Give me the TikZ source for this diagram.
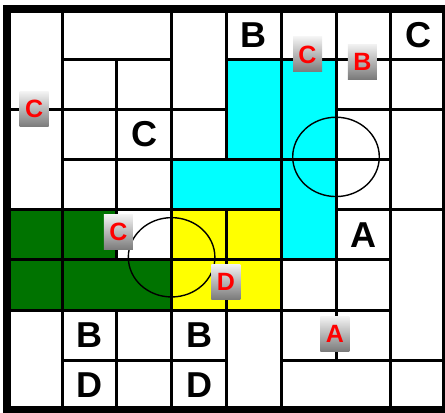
\documentclass[tikz,border=0pt]{standalone}
\usepackage{fontspec}
\setmainfont{Liberation Sans}
\definecolor{puzzlecyan}{RGB}{0,255,255}
\definecolor{puzzleyellow}{RGB}{255,255,0}
\definecolor{puzzlegreen}{RGB}{0,115,0}

\begin{document}
\begin{tikzpicture}[
            x=54.8pt, y=-50.2pt,
            wall/.style={line width=3pt},
            frame/.style={line width=8pt},
            ring/.style={line width=1.4pt},
            letter/.style={inner sep=0pt, font=\fontsize{36}{36}\selectfont\bfseries},
            badge/.style={rectangle, inner sep=0pt, minimum width=29pt, minimum height=35pt, top color=black!5, middle color=black!20, bottom color=black!52, text=red, font=\fontsize{25}{25}\selectfont\bfseries}
        ]
            \useasboundingbox (-0.1314,-0.1753) rectangle (7.989,8.032);
            \clip (-0.1314,-0.1753) rectangle (7.989,8.032);
            \fill[puzzlecyan] (4,1) -- (6,1) -- (6,5) -- (5,5) -- (5,4) -- (3,4) -- (3,3) -- (4,3) -- cycle;
            \fill[puzzleyellow] (3,4) rectangle (5,6);
            \fill[puzzlegreen] (0,4) -- (2,4) -- (2,5) -- (3,5) -- (3,6) -- (0,6) -- cycle;
            \draw[ring] (6,2.95) circle[radius=0.79];
            \draw[ring] (3,4.95) circle[radius=0.79];
            \draw[wall]
                (1,0) -- (1,8)
                (2,1) -- (2,5) (2,6) -- (2,8)
                (3,0) -- (3,8)
                (4,0) -- (4,3) (4,4) -- (4,8)
                (5,0) -- (5,8)
                (6,0) -- (6,7)
                (7,0) -- (7,8)
                (1,1) -- (3,1) (4,1) -- (8,1)
                (0,2) -- (4,2) (6,2) -- (8,2)
                (1,3) -- (7,3)
                (0,4) -- (5,4) (6,4) -- (8,4)
                (0,5) -- (7,5)
                (0,6) -- (7,6)
                (1,7) -- (4,7) (5,7) -- (8,7);
            \draw[frame] (0,0) rectangle (8,8);
            \node[letter] (topB) at (4.5,0.52) {B};
            \node[letter] (topC) at (7.5,0.52) {C};
            \node[letter] (midC) at (2.5,2.5) {C};
            \node[letter] (midA) at (6.5,4.5) {A};
            \node[letter] (lowB1) at (1.5,6.5) {B};
            \node[letter] (lowD1) at (1.5,7.5) {D};
            \node[letter] (lowB2) at (3.5,6.5) {B};
            \node[letter] (lowD2) at (3.5,7.5) {D};
            \node[badge] (hintC1) at (0.49,2.0) {C};
            \node[badge] (hintC2) at (5.48,0.91) {C};
            \node[badge] (hintB) at (6.48,1.05) {B};
            \node[badge] (hintC3) at (2.03,4.45) {C};
            \node[badge] (hintD) at (3.99,5.44) {D};
            \node[badge] (hintA) at (5.98,6.48) {A};
        \end{tikzpicture}
\end{document}
